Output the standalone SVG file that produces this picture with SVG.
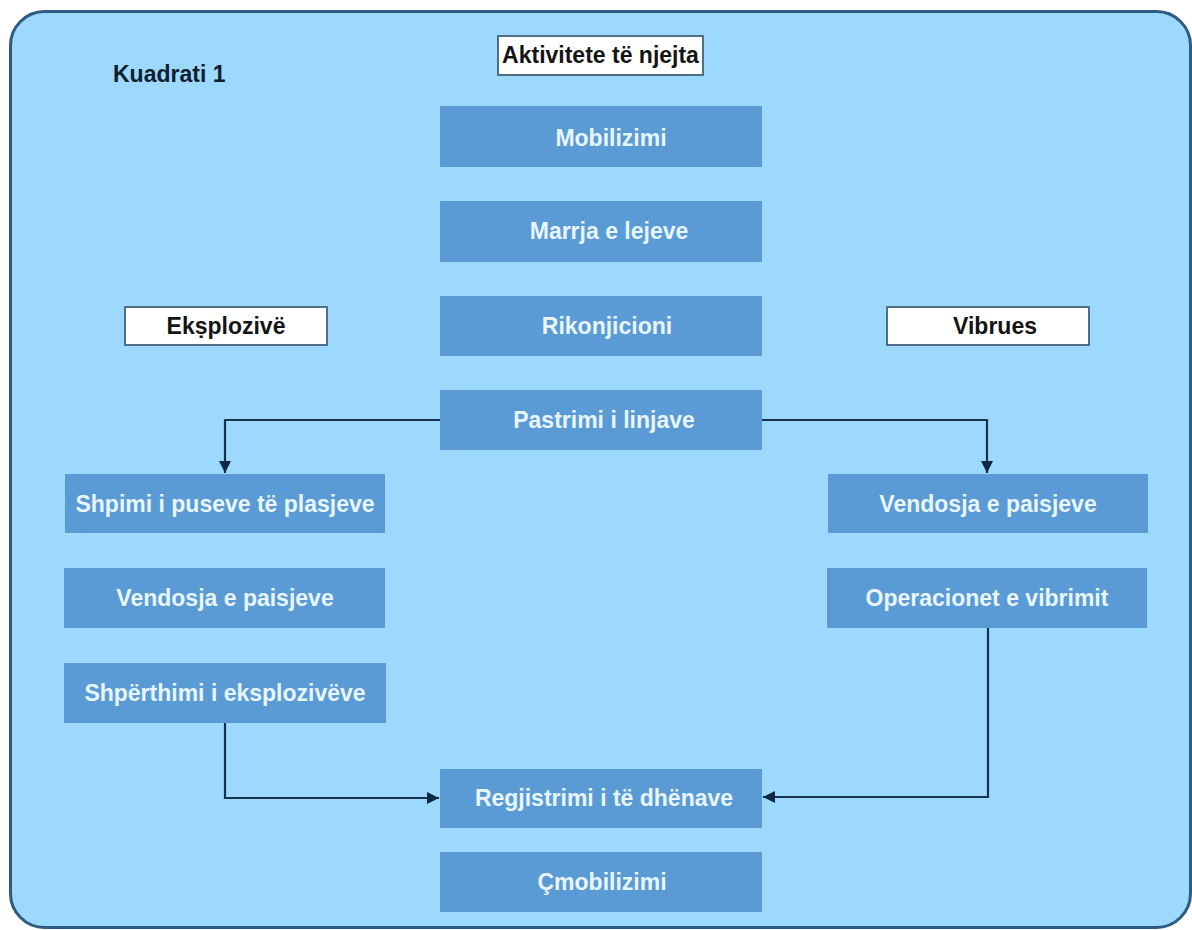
<svg xmlns="http://www.w3.org/2000/svg" width="1192" height="930" viewBox="0 0 1192 930">
<defs>
<style>
.node rect{fill:#5b9bd5;}
.node text{font-family:"Liberation Sans",Arial,sans-serif;font-weight:bold;font-size:23px;fill:#e8f6ff;text-anchor:middle;}
.label rect{fill:#ffffff;stroke:#4f6f88;stroke-width:2;}
.label text{font-family:"Liberation Sans",Arial,sans-serif;font-weight:bold;font-size:23px;fill:#141414;text-anchor:middle;}
.conn path{fill:none;stroke:#17324f;stroke-width:2.2;}
</style>
<marker id="arr" viewBox="0 0 10 10" refX="10" refY="5" markerWidth="12" markerHeight="12" markerUnits="userSpaceOnUse" orient="auto">
<path d="M0,0 L10,5 L0,10 Z" fill="#0f2843"/>
</marker>
</defs>
<rect width="1192" height="930" fill="#ffffff"/>
<g id="frame">
<rect x="10.5" y="11.5" width="1180" height="916" rx="34" ry="34" fill="#9dd9fc" stroke="#2d5b82" stroke-width="3"/>
<text x="113" y="82" font-family="Liberation Sans, Arial, sans-serif" font-weight="bold" font-size="23" fill="#10202e">Kuadrati 1</text>
</g>
<g class="label" id="lbl-aktivitete"><rect x="498" y="36" width="205" height="39"/><text x="600.5" y="63">Aktivitete të njejta</text></g>
<g class="label" id="lbl-eksplozive"><rect x="125" y="307" width="202" height="38"/><text x="226" y="334">Ekṣplozivë</text></g>
<g class="label" id="lbl-vibrues"><rect x="887" y="307" width="202" height="38"/><text x="995" y="334">Vibrues</text></g>
<g class="conn" id="connectors">
<path d="M440,420 H225 V473" marker-end="url(#arr)"/>
<path d="M762,420 H987 V473" marker-end="url(#arr)"/>
<path d="M225,723 V798 H439" marker-end="url(#arr)"/>
<path d="M988,628 V797 H763" marker-end="url(#arr)"/>
</g>
<g class="node" id="n-mobilizimi"><rect x="440" y="106" width="322" height="61"/><text x="611" y="146">Mobilizimi</text></g>
<g class="node" id="n-marrja"><rect x="440" y="201" width="322" height="61"/><text x="609" y="239">Marrja e lejeve</text></g>
<g class="node" id="n-rikonjicioni"><rect x="440" y="296" width="322" height="60"/><text x="607" y="334">Rikonjicioni</text></g>
<g class="node" id="n-pastrimi"><rect x="440" y="390" width="322" height="60"/><text x="604" y="428">Pastrimi i linjave</text></g>
<g class="node" id="n-shpimi"><rect x="65" y="474" width="320" height="59"/><text x="225" y="512">Shpimi i puseve të plasjeve</text></g>
<g class="node" id="n-vendosja-l"><rect x="64" y="568" width="321" height="60"/><text x="225" y="606">Vendosja e paisjeve</text></g>
<g class="node" id="n-shperthimi"><rect x="64" y="663" width="322" height="60"/><text x="225" y="701">Shpërthimi i eksplozivëve</text></g>
<g class="node" id="n-vendosja-r"><rect x="828" y="474" width="320" height="59"/><text x="988" y="512">Vendosja e paisjeve</text></g>
<g class="node" id="n-operacionet"><rect x="827" y="568" width="320" height="60"/><text x="987" y="606">Operacionet e vibrimit</text></g>
<g class="node" id="n-regjistrimi"><rect x="440" y="769" width="322" height="59"/><text x="604" y="806">Regjistrimi i të dhënave</text></g>
<g class="node" id="n-cmobilizimi"><rect x="440" y="852" width="322" height="60"/><text x="602" y="890">Çmobilizimi</text></g>
</svg>
